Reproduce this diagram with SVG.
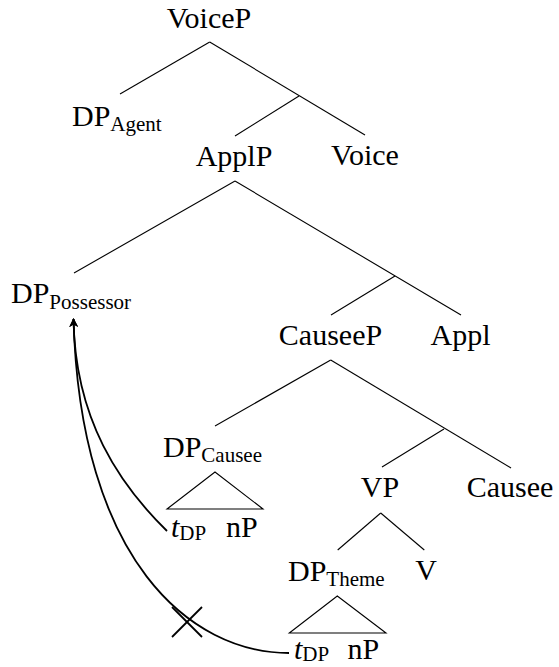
<svg xmlns="http://www.w3.org/2000/svg" width="559" height="667" viewBox="0 0 559 667">
  <style>
    text { font-family: "Liberation Serif", "DejaVu Serif", serif; font-size: 30px; fill: #000; }
    .c { text-anchor: middle; }
    .sub { font-size: 21px; }
    .it { font-style: italic; }
    .edge { stroke: #000; stroke-width: 1.1; fill: none; }
    .move { stroke: #000; stroke-width: 1.8; fill: none; }
  </style>
  <defs>
    <marker id="arrow" viewBox="0 0 10 10" refX="9" refY="5" markerWidth="9" markerHeight="9" markerUnits="userSpaceOnUse" orient="auto">
      <path d="M0,0 L10,5 L0,10 L3,5 Z" fill="#000"/>
    </marker>
  </defs>
  <rect width="559" height="667" fill="#fff"/>

  <!-- tree branches, movement arrows and the blocked-movement cross -->
  <g id="connectors">
    <line class="edge" x1="209.7" y1="42" x2="120" y2="94"/>
    <line class="edge" x1="209.7" y1="42" x2="365" y2="135"/>
    <line class="edge" x1="299" y1="96" x2="235" y2="136"/>
    <line class="edge" x1="235" y1="181" x2="74" y2="273"/>
    <line class="edge" x1="235" y1="181" x2="461" y2="315"/>
    <line class="edge" x1="395" y1="276" x2="331" y2="315"/>
    <line class="edge" x1="330.7" y1="360" x2="215" y2="426"/>
    <line class="edge" x1="330.7" y1="360" x2="511" y2="468"/>
    <line class="edge" x1="444" y1="429" x2="382" y2="467"/>
    <polygon class="edge" points="215,472 167,509 263,509"/>
    <line class="edge" x1="380.7" y1="513" x2="337.7" y2="550"/>
    <line class="edge" x1="380.7" y1="513" x2="424.3" y2="550"/>
    <polygon class="edge" points="337.3,596 289.3,633 386,633"/>
    <path class="move" d="M167,531 C120,485 75,420 73.5,319" marker-end="url(#arrow)"/>
    <path class="move" d="M289,653 C190,653 80,560 73.5,319" marker-end="url(#arrow)"/>
    <line class="move" x1="172" y1="607" x2="202" y2="637"/>
    <line class="move" x1="172" y1="637" x2="202" y2="607"/>
  </g>

  <g id="voiceP"><text class="c" x="209" y="28">VoiceP</text></g>
  <g id="dp-agent"><text x="72" y="126">DP<tspan class="sub" dy="5">Agent</tspan></text></g>
  <g id="applP"><text class="c" x="234" y="166">ApplP</text></g>
  <g id="voice"><text class="c" x="365" y="165">Voice</text></g>
  <g id="dp-possessor"><text x="11" y="303">DP<tspan class="sub" dy="6">Possessor</tspan></text></g>
  <g id="causeeP"><text class="c" x="330.5" y="345">CauseeP</text></g>
  <g id="appl"><text class="c" x="460.5" y="345">Appl</text></g>
  <g id="dp-causee"><text x="163" y="457">DP<tspan class="sub" dy="5">Causee</tspan></text></g>
  <g id="vp"><text class="c" x="380" y="497">VP</text></g>
  <g id="causee"><text class="c" x="510" y="497">Causee</text></g>
  <g id="causee-trace"><text x="171" y="537"><tspan class="it">t</tspan><tspan class="sub" dy="3">DP</tspan></text><text x="226" y="537">nP</text></g>
  <g id="dp-theme"><text x="288" y="581">DP<tspan class="sub" dy="5">Theme</tspan></text></g>
  <g id="v"><text class="c" x="426" y="580">V</text></g>
  <g id="theme-trace"><text x="294" y="659"><tspan class="it">t</tspan><tspan class="sub" dy="2">DP</tspan></text><text x="347.5" y="659">nP</text></g>
</svg>
